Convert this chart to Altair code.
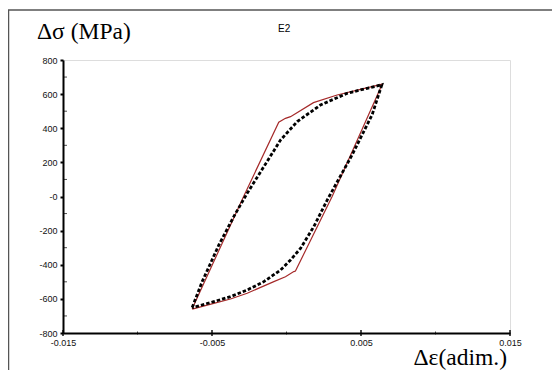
import altair as alt
import pandas as pd

# Experimental loop (red)
exp_strain = [-0.00633, -0.00287, -0.00052, -0.00007, 0.00027, 0.00181, 0.0034, 0.00497, 0.00642,
              0.00631, 0.00307, 0.0006, 0.00049, -0.00007, -0.00085, -0.00264, -0.00376, -0.00488, -0.00633]
exp_stress = [-658, 2, 435, 458, 468, 550, 595, 628, 659,
              636, 2, -437, -440, -470, -499, -567, -601, -626, -660]

# Model loop (black dashed)
mod_strain = [-0.00633, -0.00566, -0.00454, -0.00354, -0.00264, -0.00152, -0.0004, 0.00072,
              0.00228, 0.00407, 0.00541, 0.00631, 0.0064,
              0.00575, 0.00441, 0.00273, 0.00183, 0.00094, 0.00027, -0.0004, -0.00152,
              -0.00264, -0.00376, -0.00488, -0.00633]
mod_stress = [-650, -499, -284, -118, 19, 175, 331, 439,
              536, 605, 634, 653, 655,
              480, 245, -21, -177, -304, -372, -431, -499,
              -548, -587, -616, -652]

x_major = [-0.015, -0.005, 0.005, 0.015]
x_major_labels = ["-0.015", "-0.005", "0.005", "0.015"]
x_minor = [-0.01, 0.0, 0.01]
y_major = [800, 600, 400, 200, 0, -200, -400, -600, -800]
y_major_labels = ["800", "600", "400", "200", "-0", "-200", "-400", "-600", "-800"]
y_minor = [700, 500, 300, 100, -100, -300, -500, -700]

df_exp = pd.DataFrame({"strain": exp_strain, "stress": exp_stress, "i": range(len(exp_strain))})
df_mod = pd.DataFrame({"strain": mod_strain, "stress": mod_stress, "i": range(len(mod_strain))})

def label_expr(vals, labels):
    parts = [f"datum.value == {v} ? '{l}'" for v, l in zip(vals, labels)]
    return " : ".join(parts) + " : ''"

xs = alt.Scale(domain=[-0.015, 0.015], nice=False, zero=False)
ys = alt.Scale(domain=[-800, 800], nice=False, zero=False)

x_axis = alt.Axis(values=x_major, labelExpr=label_expr(x_major, x_major_labels), title=None,
                  ticks=False, grid=False, domainColor="black", domainWidth=2,
                  labelFont="Liberation Sans", labelFontSize=9, labelColor="#111",
                  labelPadding=5, labelFlush=False, labelOverlap=False)
y_axis = alt.Axis(values=y_major, labelExpr=label_expr(y_major, y_major_labels), title=None,
                  ticks=True, tickSize=3, tickWidth=2, tickColor="black", grid=False,
                  domainColor="black", domainWidth=2,
                  labelFont="Liberation Sans", labelFontSize=9, labelColor="#111",
                  labelPadding=3, labelFlush=False, labelOverlap=False)

X = lambda f: alt.X(f, scale=xs, axis=x_axis)
Y = lambda f: alt.Y(f, scale=ys, axis=y_axis)

exp_line = alt.Chart(df_exp).mark_line(color="#a52a2a", strokeWidth=1.2).encode(
    x=X("strain:Q"), y=Y("stress:Q"), order="i:Q")
mod_line = alt.Chart(df_mod).mark_line(color="black", strokeWidth=2.8, strokeDash=[3.5, 2]).encode(
    x=X("strain:Q"), y=Y("stress:Q"), order="i:Q")

xmaj = alt.Chart(pd.DataFrame({"v": x_major})).mark_tick(
    orient="vertical", color="black", size=6, thickness=2).encode(
    x=X("v:Q"), y=alt.value(273))
xmin = alt.Chart(pd.DataFrame({"v": x_minor})).mark_tick(
    orient="vertical", color="black", size=3, thickness=1).encode(
    x=X("v:Q"), y=alt.value(273))
ymin = alt.Chart(pd.DataFrame({"v": y_minor})).mark_tick(
    orient="horizontal", color="black", size=4, thickness=1).encode(
    y=Y("v:Q"), x=alt.value(2))

frame_left = alt.Chart(pd.DataFrame({"a": [0]})).mark_rule(color="#555", strokeWidth=1.5).encode(
    x=alt.value(-54.5), y=alt.value(-50), y2=alt.value(310))
frame_top = alt.Chart(pd.DataFrame({"a": [0]})).mark_rule(color="#555", strokeWidth=1.5).encode(
    x=alt.value(-55), x2=alt.value(500), y=alt.value(-50))

serif = "Liberation Serif"
t_y = alt.Chart(pd.DataFrame({"t": ["Δσ (MPa)"]})).mark_text(
    font=serif, fontSize=23.5, align="left", baseline="alphabetic", color="black").encode(
    text="t:N", x=alt.value(-26), y=alt.value(-21))
t_e = alt.Chart(pd.DataFrame({"t": ["E2"]})).mark_text(
    font="Liberation Sans", fontSize=10, align="left", baseline="middle", color="black").encode(
    text="t:N", x=alt.value(215), y=alt.value(-31))
t_x = alt.Chart(pd.DataFrame({"t": ["Δε(adim.)"]})).mark_text(
    font=serif, fontSize=23.5, align="right", baseline="alphabetic", color="black").encode(
    text="t:N", x=alt.value(444), y=alt.value(305))

chart = alt.layer(frame_left, frame_top, exp_line, mod_line, xmaj, xmin, ymin, t_y, t_e, t_x).properties(
    width=447, height=273,
    padding={"left": 55, "top": 52, "right": 42, "bottom": 37},
    autosize=alt.AutoSizeParams(type="none"),
).configure_view(stroke="#666", strokeWidth=1).configure(background="white")

chart.save("out.html", embed_options={"renderer": "svg", "actions": False})
